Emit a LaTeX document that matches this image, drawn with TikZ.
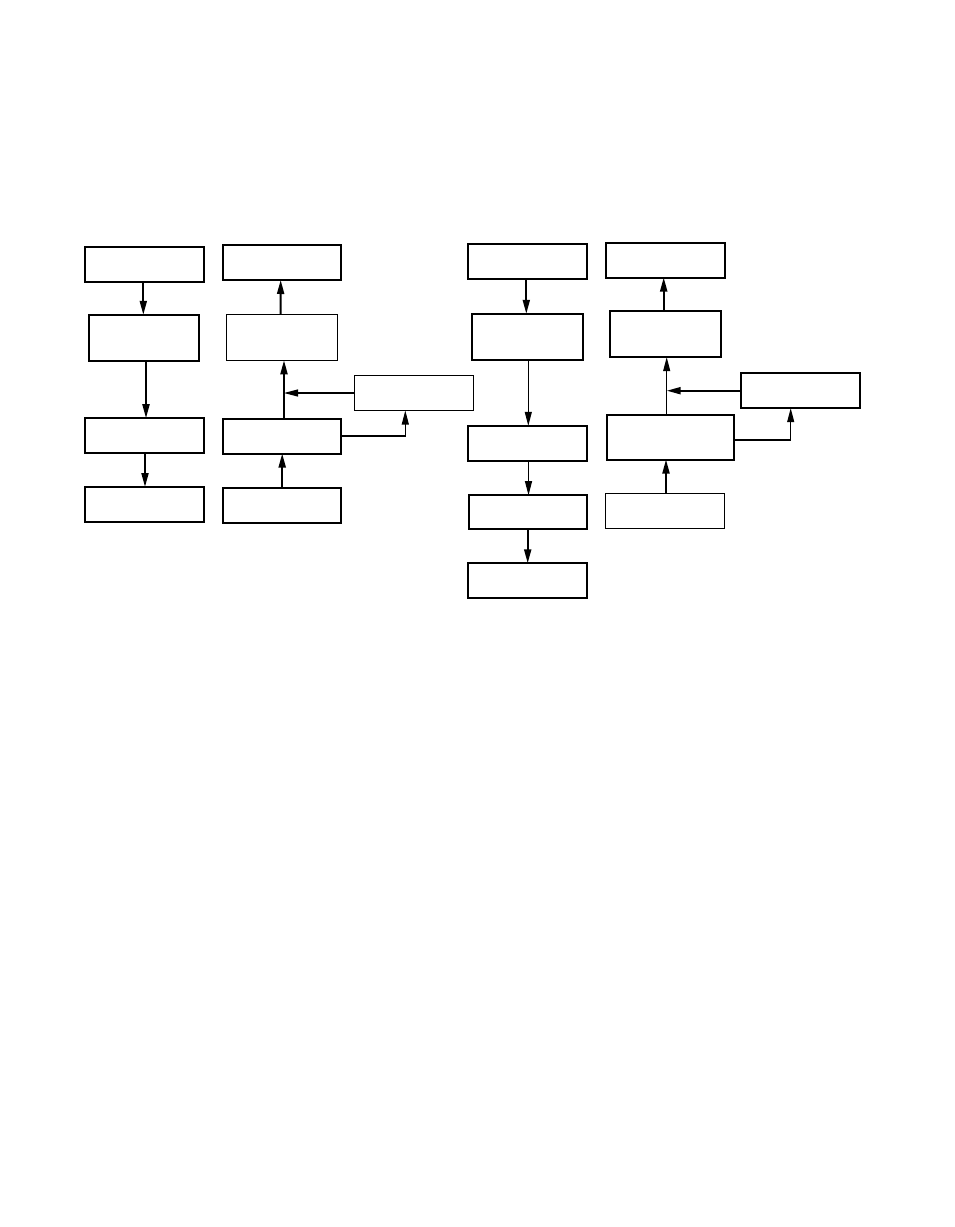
\documentclass[tikz,border=0pt]{standalone}
\usetikzlibrary{arrows.meta,calc}
\begin{document}
\begin{tikzpicture}[x=1pt,y=-1pt,
  bx/.style={draw,line width=#1,inner sep=0pt,outer sep=0pt},
  bx/.default=2pt,
  thk/.style={line width=2pt,-{Triangle[length=14pt,width=7pt]}},
  thn/.style={line width=1.1pt,-{Triangle[length=14pt,width=7pt]}}]
\useasboundingbox (0,0) rectangle (954,1227);
% left group, column A
\node[bx,minimum width=119,minimum height=35] (A1) at (144.2,264.2) {};
\node[bx,minimum width=110,minimum height=46] (A2) at (144.2,337.8) {};
\node[bx,minimum width=119,minimum height=35] (A3) at (144.2,435.7) {};
\node[bx,minimum width=119,minimum height=35] (A4) at (144.2,504.5) {};
% column B
\node[bx,minimum width=118,minimum height=35] (B1) at (282.2,262.5) {};
\node[bx=1.3pt,minimum width=111,minimum height=46] (B2) at (282,337.3) {};
\node[bx,minimum width=118,minimum height=35] (B3) at (282.2,436) {};
\node[bx,minimum width=118,minimum height=35] (B4) at (282.2,505.8) {};
\node[bx=1.3pt,minimum width=119,minimum height=35] (S1) at (414,393) {};
% right group, column C
\node[bx,minimum width=119,minimum height=35] (C1) at (527,261.8) {};
\node[bx,minimum width=111,minimum height=46] (C2) at (527,336.8) {};
\node[bx,minimum width=119,minimum height=35] (C3) at (527,443.3) {};
\node[bx,minimum width=118,minimum height=34] (C4) at (528,512.2) {};
\node[bx,minimum width=119,minimum height=35] (C5) at (527,580.8) {};
% column D
\node[bx,minimum width=119,minimum height=35] (D1) at (665,260) {};
\node[bx,minimum width=111,minimum height=46] (D2) at (665,334.2) {};
\node[bx,minimum width=127,minimum height=45] (D3) at (670.7,437) {};
\node[bx=1.5pt,minimum width=119,minimum height=35] (D4) at (665,510.8) {};
\node[bx,minimum width=119,minimum height=35] (S2) at (800,390.7) {};
% connectors, left group
\draw[thk] ([xshift=-0.9]A1.south) -- ([xshift=-0.9]A2.north);
\draw[thk] ([xshift=1.8]A2.south) -- ([xshift=1.8]A3.north);
\draw[thk] ([xshift=0.8]A3.south) -- ([xshift=0.8]A4.north);
\draw[thk] ([xshift=-1.5]B2.north) -- ([xshift=-1.5]B1.south);
\coordinate (jb) at ([xshift=1.8]B3.north);
\draw[thk] (jb) -- (B2.south -| jb);
\draw[thn] (S1.west) -- (S1.west -| jb);
\draw[thn] (B3.east) -| ([xshift=-8.7]S1.south);
\draw[thk] (B4.north) -- (B3.south);
% connectors, right group
\draw[thk] ([xshift=-0.7]C1.south) -- ([xshift=-0.7]C2.north);
\draw[thn] ([xshift=1.3]C2.south) -- ([xshift=1.3]C3.north);
\draw[thn] ([xshift=1.5]C3.south) -- ([xshift=0.5]C4.north);
\draw[thk] ([xshift=-0.3]C4.south) -- ([xshift=0.7]C5.north);
\draw[thk] ([xshift=-1.3]D2.north) -- ([xshift=-1.3]D1.south);
\coordinate (jd) at ([xshift=-4]D3.north);
\draw[thn] (jd) -- (D2.south -| jd);
\draw[thk] (S2.west) -- (S2.west -| jd);
\draw[thn] ([yshift=-3]D3.east) -| ([xshift=-9.3]S2.south);
\coordinate (jf) at ([xshift=1]D4.north);
\draw[thk] (jf) -- (D3.south -| jf);
\end{tikzpicture}
\end{document}
